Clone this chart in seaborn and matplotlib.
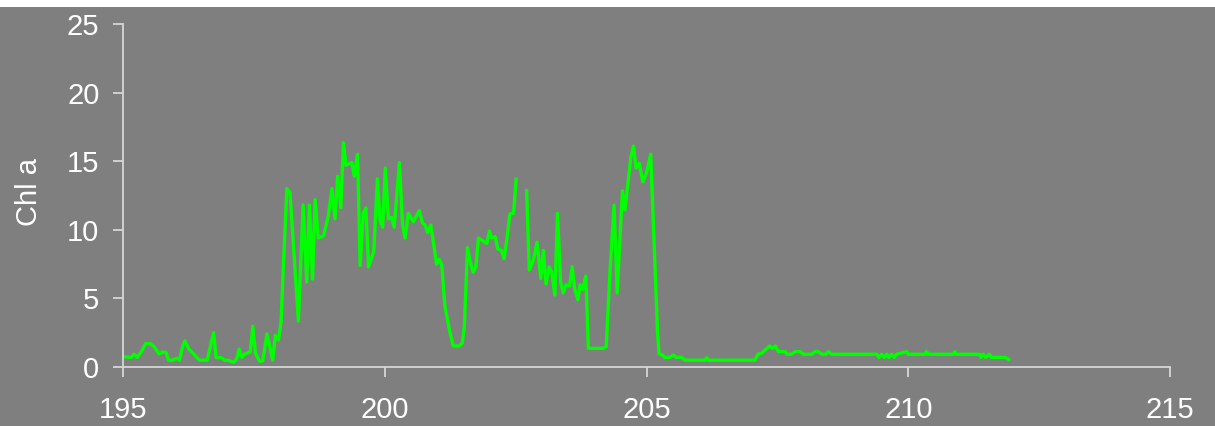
import numpy as np
import pandas as pd
import seaborn as sns
import matplotlib
matplotlib.use("Agg")
import matplotlib.pyplot as plt
from matplotlib.patches import Rectangle

# Day of year (segment 1: before data gap)
day_1 = [195.02, 195.16, 195.21, 195.27, 195.35, 195.43, 195.52, 195.59, 195.69, 195.76,
         195.82, 195.87, 195.94, 196.03, 196.08, 196.13, 196.18, 196.26, 196.46, 196.61,
         196.73, 196.78, 196.88, 196.94, 197.02, 197.11, 197.17, 197.22, 197.27, 197.32,
         197.43, 197.48, 197.53, 197.61, 197.67, 197.75, 197.86, 197.91, 197.97, 198.02,
         198.06, 198.13, 198.19, 198.35, 198.44, 198.51, 198.56, 198.62, 198.67, 198.73,
         198.83, 198.92, 198.99, 199.05, 199.10, 199.16, 199.21, 199.26, 199.37, 199.42,
         199.48, 199.53, 199.59, 199.64, 199.69, 199.79, 199.86, 199.91, 199.96, 200.01,
         200.07, 200.13, 200.18, 200.28, 200.34, 200.39, 200.45, 200.55, 200.66, 200.72,
         200.77, 200.82, 200.88, 200.99, 201.04, 201.09, 201.15, 201.25, 201.31, 201.42,
         201.48, 201.52, 201.58, 201.63, 201.69, 201.74, 201.79, 201.95, 202.00, 202.04,
         202.11, 202.16, 202.23, 202.28, 202.33, 202.39, 202.46, 202.51]
chl_1 = [0.75, 0.70, 0.93, 0.70, 1.10, 1.70, 1.70, 1.50, 0.95, 1.10,
         1.07, 0.50, 0.50, 0.63, 0.50, 1.35, 1.90, 1.30, 0.50, 0.50,
         2.50, 0.68, 0.68, 0.50, 0.48, 0.34, 0.56, 1.30, 0.70, 0.93,
         1.10, 2.97, 1.00, 0.41, 0.46, 2.40, 0.50, 2.30, 1.97, 3.30,
         7.10, 13.0, 12.7, 3.35, 11.8, 6.20, 11.8, 6.40, 12.2, 9.40,
         9.55, 10.95, 13.0, 10.8, 13.9, 11.6, 16.35, 14.7, 14.9, 13.9,
         15.5, 7.40, 11.2, 11.6, 7.30, 8.40, 13.7, 10.7, 10.2, 14.5,
         10.8, 10.9, 10.2, 14.9, 10.35, 9.40, 11.2, 10.6, 11.4, 10.5,
         10.35, 9.80, 10.35, 7.50, 7.85, 7.40, 4.40, 2.45, 1.53, 1.53,
         1.73, 2.94, 8.70, 7.70, 6.90, 7.30, 9.40, 9.00, 9.90, 9.40,
         9.50, 8.60, 8.50, 7.90, 9.25, 11.15, 11.2, 13.7]

# Segment 2: after data gap
day_2 = [202.71, 202.76, 202.84, 202.91, 202.98, 203.03, 203.08, 203.14, 203.19, 203.25,
         203.30, 203.36, 203.41, 203.46, 203.53, 203.58, 203.63, 203.69, 203.73, 203.78,
         203.84, 203.89, 204.17, 204.23, 204.30, 204.38, 204.44, 204.54, 204.59, 204.70,
         204.75, 204.80, 204.86, 204.93, 205.00, 205.08, 205.16, 205.21, 205.24, 205.31,
         205.35, 205.45, 205.51, 205.57, 205.67, 205.74, 206.12, 206.15, 206.18, 207.07,
         207.13, 207.20, 207.35, 207.41, 207.46, 207.52, 207.65, 207.68, 207.77, 207.84,
         207.93, 208.00, 208.16, 208.22, 208.28, 208.35, 208.43, 208.47, 208.54, 209.40,
         209.44, 209.49, 209.54, 209.59, 209.63, 209.68, 209.73, 209.78, 209.97, 210.00,
         210.32, 210.35, 210.38, 210.86, 210.89, 210.92, 211.36, 211.39, 211.43, 211.48,
         211.55, 211.59, 211.85, 211.92]
chl_2 = [12.85, 7.07, 7.80, 9.10, 6.45, 8.50, 6.05, 7.30, 6.90, 5.25,
         11.2, 6.15, 5.40, 5.98, 5.90, 7.30, 5.66, 4.90, 5.98, 5.66,
         6.63, 1.36, 1.36, 1.48, 6.83, 11.8, 5.40, 12.85, 11.45, 15.3,
         16.1, 14.5, 14.85, 13.5, 14.15, 15.5, 7.55, 2.57, 0.95, 0.87,
         0.70, 0.70, 0.87, 0.70, 0.70, 0.50, 0.50, 0.68, 0.50, 0.50,
         0.93, 1.00, 1.53, 1.36, 1.53, 1.12, 1.12, 0.93, 0.93, 1.12,
         1.12, 0.93, 0.93, 1.12, 1.12, 0.93, 0.93, 1.12, 0.93, 0.93,
         0.70, 0.93, 0.70, 0.93, 0.70, 0.93, 0.70, 0.93, 1.12, 0.93,
         0.93, 1.12, 0.93, 0.93, 1.12, 0.93, 0.93, 0.70, 0.93, 0.70,
         0.93, 0.70, 0.70, 0.55]

x_ticks = [195, 200, 205, 210, 215]
y_ticks = [0, 5, 10, 15, 20, 25]
y_label = "Chl a"

df1 = pd.DataFrame({"day": day_1, "chl": chl_1})
df2 = pd.DataFrame({"day": day_2, "chl": chl_2})

BG = "#7f7f7f"
SPINE = "#d6d6d6"
plt.rcParams["font.family"] = ["Liberation Sans", "DejaVu Sans"]

fig = plt.figure(figsize=(12.15, 4.26), dpi=100, facecolor=BG)
fig.patches.append(Rectangle((0, 1 - 7 / 426), 1, 7 / 426, transform=fig.transFigure,
                             facecolor="white", edgecolor="none", zorder=0))
ax = fig.add_axes([123 / 1215, 1 - 367 / 426, (1170 - 123) / 1215, (367 - 24) / 426])
ax.set_facecolor(BG)

for d in (df1, df2):
    sns.lineplot(data=d, x="day", y="chl", ax=ax, color="#00ff00", linewidth=2.4,
                 sort=False, estimator=None)

ax.set_xlim(195, 215)
ax.set_ylim(0, 25)
ax.set_xticks(x_ticks)
ax.set_yticks(y_ticks)
ax.set_xlabel("")
ax.set_ylabel("")
for s in ["top", "right"]:
    ax.spines[s].set_visible(False)
for s in ["left", "bottom"]:
    ax.spines[s].set_color(SPINE)
    ax.spines[s].set_linewidth(1.3)
ax.tick_params(axis="both", colors=SPINE, width=1.3, length=7, direction="out",
               labelcolor="white", labelsize=21)
ax.tick_params(axis="x", pad=14)
ax.tick_params(axis="y", pad=10)
ax.grid(False)

fig.text(29 / 1215, 1 - 192 / 426, y_label, rotation=90, ha="center", va="center",
         color="white", fontsize=21)

fig.savefig("out.png", dpi=100, facecolor=BG)
